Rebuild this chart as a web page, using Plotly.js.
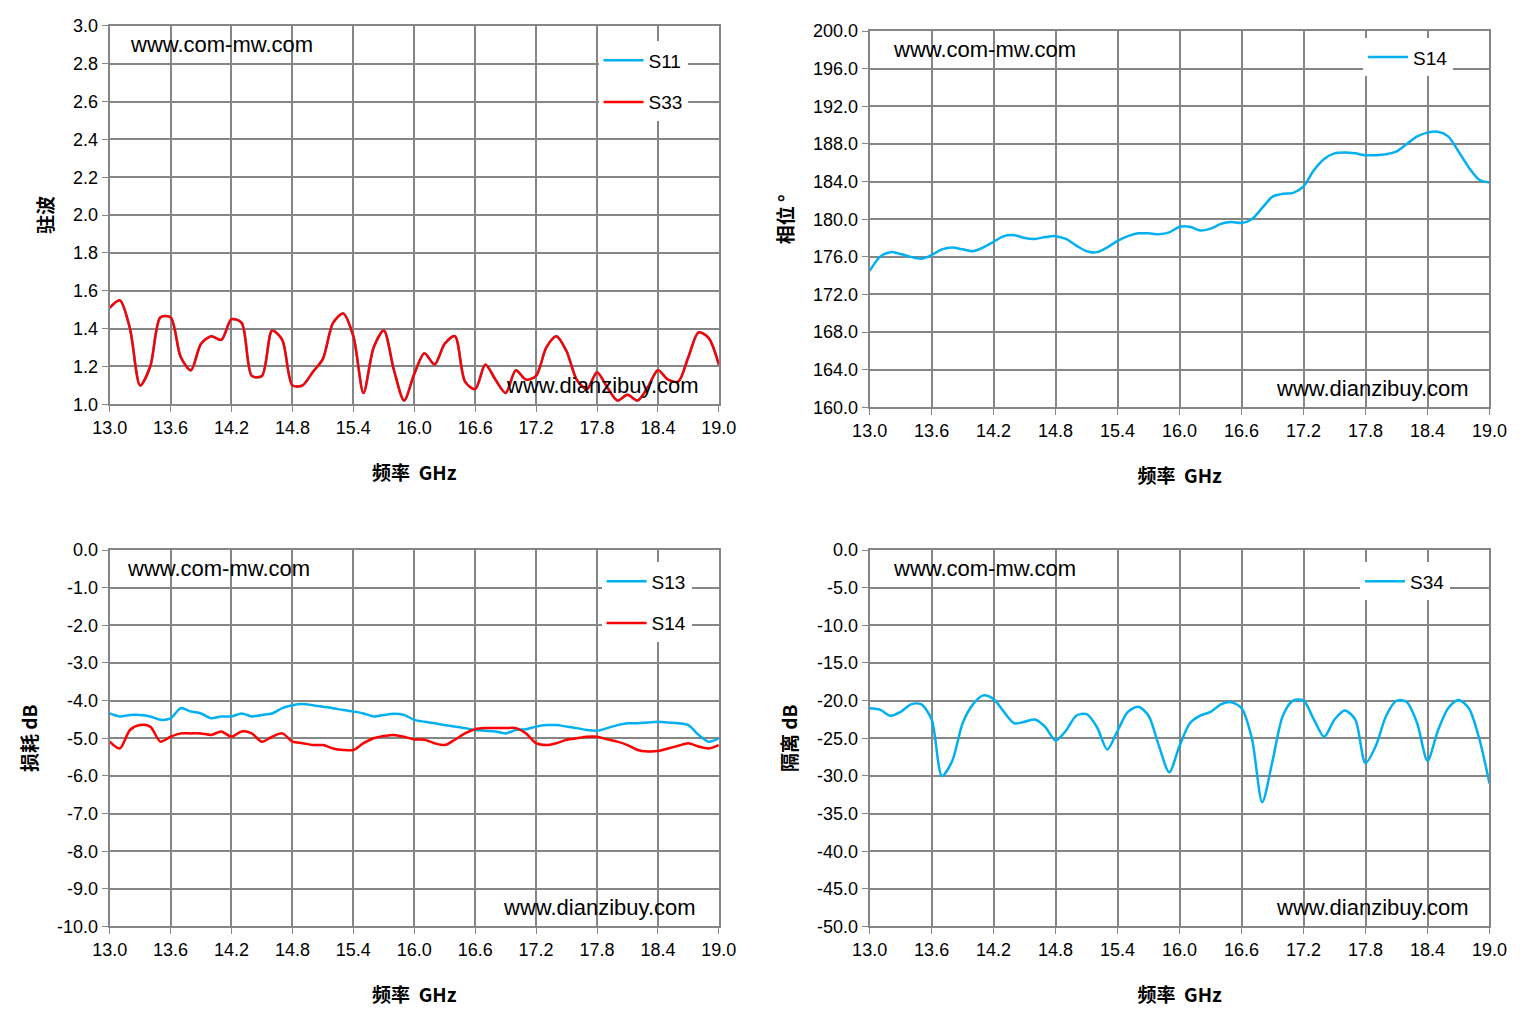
<!DOCTYPE html>
<html><head><meta charset="utf-8">
<script src="https://cdn.plot.ly/plotly-3.0.1.min.js"></script>
<style>body{margin:0;background:#fff}#c{width:1523px;height:1034px}</style>
</head><body><div id="c"></div>
<script>
// frequency axis, 13.0 .. 19.0 GHz in 0.1 steps
const freq = [];
for (let i = 0; i <= 60; i++) freq.push(+(13 + i * 0.1).toFixed(1));
const freqTicks = [13.0,13.6,14.2,14.8,15.4,16.0,16.6,17.2,17.8,18.4,19.0];

const vswrS33 = [1.51,1.55,1.40,1.10,1.20,1.46,1.46,1.25,1.18,1.32,1.36,1.34,1.45,1.43,1.15,1.15,1.39,1.34,1.10,1.10,1.17,1.24,1.43,1.48,1.36,1.06,1.30,1.39,1.18,1.02,1.16,1.27,1.21,1.32,1.36,1.12,1.08,1.21,1.13,1.06,1.18,1.13,1.15,1.30,1.36,1.28,1.13,1.08,1.17,1.09,1.02,1.05,1.02,1.09,1.18,1.13,1.12,1.25,1.38,1.35,1.21];
const vswrS11 = vswrS33.slice();
const phaseS14 = [174.5,176,176.5,176.3,176,175.8,176.2,176.8,177,176.8,176.6,177,177.6,178.2,178.3,178,177.9,178.1,178.2,177.9,177.2,176.6,176.5,177,177.7,178.2,178.5,178.5,178.4,178.6,179.2,179.2,178.8,179,179.5,179.7,179.6,180,181.2,182.4,182.7,182.8,183.5,185.2,186.4,187,187.1,187,186.8,186.8,186.9,187.2,188,188.8,189.2,189.3,188.8,187.2,185.5,184.2,183.9];
const lossS13 = [-4.34,-4.42,-4.38,-4.38,-4.42,-4.51,-4.47,-4.20,-4.29,-4.34,-4.47,-4.42,-4.42,-4.34,-4.42,-4.38,-4.34,-4.20,-4.12,-4.09,-4.12,-4.16,-4.20,-4.25,-4.29,-4.34,-4.42,-4.38,-4.35,-4.38,-4.51,-4.56,-4.60,-4.65,-4.69,-4.73,-4.78,-4.80,-4.82,-4.87,-4.78,-4.76,-4.69,-4.65,-4.65,-4.69,-4.73,-4.78,-4.80,-4.73,-4.65,-4.60,-4.60,-4.58,-4.56,-4.58,-4.60,-4.65,-4.91,-5.09,-5.00];
const lossS14 = [-5.09,-5.27,-4.78,-4.65,-4.69,-5.09,-4.96,-4.87,-4.87,-4.87,-4.91,-4.82,-4.96,-4.82,-4.87,-5.09,-4.96,-4.87,-5.09,-5.13,-5.18,-5.18,-5.27,-5.31,-5.31,-5.13,-5.00,-4.94,-4.91,-4.96,-5.03,-5.04,-5.13,-5.18,-5.04,-4.87,-4.76,-4.73,-4.73,-4.73,-4.73,-4.87,-5.13,-5.18,-5.13,-5.04,-5.00,-4.96,-4.96,-5.03,-5.09,-5.18,-5.31,-5.35,-5.34,-5.27,-5.20,-5.13,-5.22,-5.27,-5.18];
const isoS34 = [-21,-21.2,-22,-21.5,-20.5,-20.5,-22.5,-30,-28,-23,-20.5,-19.3,-19.8,-21.5,-23,-22.8,-22.5,-23.5,-25.3,-24,-22,-21.8,-23.5,-26.5,-24,-21.5,-20.8,-22,-26,-29.5,-26,-23,-22,-21.5,-20.5,-20.2,-21,-25,-33.5,-28,-22,-20,-20,-22.5,-24.8,-22.5,-21.3,-22.5,-28.3,-26,-22,-20,-20.2,-23,-28,-24,-21,-19.9,-21,-25,-31];

const BLUE = '#00b0f0', RED = '#ff0000', GRID = '#868686';
const tickFont = {family: 'Liberation Sans, Arial', size: 18, color: '#000'};
const titleFont = {family: 'Noto Sans CJK SC', size: 19, color: '#000'};

// tick labels with plain hyphen minus, as in the original
function ticks(lo, hi, step) {
  const v = [];
  for (let t = lo; t <= hi + 1e-9; t += step) v.push(+t.toFixed(2));
  return v;
}

function xax(domain, anchor) {
  return {domain, anchor, range: [13, 19], tickvals: freqTicks, ticktext: freqTicks.map(t => t.toFixed(1)),
    showgrid: true, gridcolor: GRID, gridwidth: 2, showline: true, linecolor: GRID, linewidth: 2,
    mirror: true, ticks: 'outside', ticklen: 6, tickcolor: GRID, zeroline: false, tickfont: tickFont,
    title: {text: '<b>频率  GHz</b>', font: titleFont, standoff: 30}};
}
function yax(domain, anchor, lo, hi, step, text) {
  const tv = ticks(lo, hi, step);
  return {domain, anchor, range: [lo, hi], tickvals: tv, ticktext: tv.map(t => t.toFixed(1)),
    showgrid: true, gridcolor: GRID, gridwidth: 2, showline: true, linecolor: GRID, linewidth: 2,
    mirror: true, ticks: 'outside', ticklen: 6, tickcolor: GRID, zeroline: false, tickfont: tickFont,
    title: {text: '<b>' + text + '</b>', font: titleFont, standoff: 14}};
}
const XL = [0.072, 0.472], XR = [0.571, 0.978];
const YTL = [0.609, 0.975], YTR = [0.606, 0.970], YB = [0.104, 0.468];

const line = (x, y, xa, ya, name, color, legend) => ({x, y, xaxis: xa, yaxis: ya, name, legend,
  legendgroup: name + ya, type: 'scatter', mode: 'lines',
  line: {color, width: 2.5, shape: 'spline', smoothing: 0.8}});

const traces = [
  line(freq, vswrS11, 'x', 'y', 'S11', BLUE, 'legend'),
  line(freq, vswrS33, 'x', 'y', 'S33', RED, 'legend'),
  line(freq, phaseS14, 'x2', 'y2', 'S14', BLUE, 'legend2'),
  line(freq, lossS13, 'x3', 'y3', 'S13', BLUE, 'legend3'),
  line(freq, lossS14, 'x3', 'y3', 'S14', RED, 'legend3'),
  line(freq, isoS34, 'x4', 'y4', 'S34', BLUE, 'legend4'),
];

const lg = (x, y) => ({x, y, xanchor: 'left', yanchor: 'top', bgcolor: '#fff', borderwidth: 0,
  font: {family: 'Liberation Sans, Arial', size: 19, color: '#000'}, tracegroupgap: 14, itemwidth: 40});

const wm = (xref, yref, x, y, text, xanchor) => ({xref, yref, x, y, text, xanchor, yanchor: 'middle',
  showarrow: false, font: {family: 'Liberation Sans, Arial', size: 22, color: '#000'}});

const layout = {
  width: 1523, height: 1034, margin: {l: 0, r: 0, t: 0, b: 0},
  paper_bgcolor: '#fff', plot_bgcolor: '#fff', showlegend: true,
  xaxis: xax(XL, 'y'), yaxis: yax(YTL, 'x', 1, 3, 0.2, '驻波'),
  xaxis2: xax(XR, 'y2'), yaxis2: yax(YTR, 'x2', 160, 200, 4, '相位 °'),
  xaxis3: xax(XL, 'y3'), yaxis3: yax(YB, 'x3', -10, 0, 1, '损耗 dB'),
  xaxis4: xax(XR, 'y4'), yaxis4: yax(YB, 'x4', -50, 0, 5, '隔离 dB'),
  legend: lg(0.393, 0.96), legend2: lg(0.895, 0.963), legend3: lg(0.395, 0.456),
  legend4: lg(0.893, 0.456),
  annotations: [
    wm('x domain', 'y domain', 0.03, 0.95, 'www.com-mw.com', 'left'),
    wm('x domain', 'y domain', 0.97, 0.05, 'www.dianzibuy.com', 'right'),
    wm('x2 domain', 'y2 domain', 0.035, 0.95, 'www.com-mw.com', 'left'),
    wm('x2 domain', 'y2 domain', 0.97, 0.05, 'www.dianzibuy.com', 'right'),
    wm('x3 domain', 'y3 domain', 0.025, 0.95, 'www.com-mw.com', 'left'),
    wm('x3 domain', 'y3 domain', 0.965, 0.05, 'www.dianzibuy.com', 'right'),
    wm('x4 domain', 'y4 domain', 0.035, 0.95, 'www.com-mw.com', 'left'),
    wm('x4 domain', 'y4 domain', 0.97, 0.05, 'www.dianzibuy.com', 'right'),
  ],
};
Plotly.newPlot('c', traces, layout, {staticPlot: true});
</script></body></html>
